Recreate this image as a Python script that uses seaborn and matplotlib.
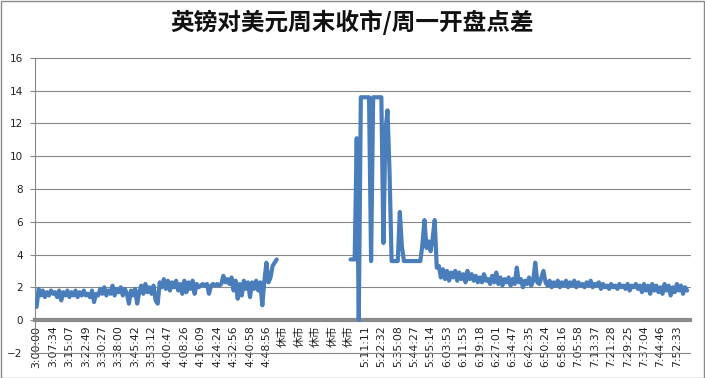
import numpy as np
import pandas as pd
import seaborn as sns
import matplotlib.pyplot as plt
from matplotlib.patches import Rectangle

TITLE = '英镑对美元周末收市/周一开盘点差'

# category labels shown on the x axis (one every POINTS_PER_LABEL samples)
tick_labels = [
    '3:00:00', '3:07:34', '3:15:07', '3:22:49', '3:30:27', '3:38:00', '3:45:42', '3:53:12',
    '4:00:47', '4:08:26', '4:16:09', '4:24:24', '4:32:56', '4:40:58', '4:48:56',
    '休市', '休市', '休市', '休市', '休市',
    '5:11:11', '5:22:32', '5:35:08', '5:44:27', '5:55:14', '6:03:53', '6:11:53', '6:19:18',
    '6:27:01', '6:34:47', '6:42:35', '6:50:24', '6:58:16', '7:05:58', '7:13:37', '7:21:28',
    '7:29:25', '7:37:04', '7:44:46', '7:52:33',
]
POINTS_PER_LABEL = 8

# spread before the weekend close
friday_spread = [
    0.8, 1.9, 1.5, 1.8, 1.4, 1.7, 1.5, 1.8, 1.6, 1.7,
    1.4, 1.8, 1.2, 1.7, 1.5, 1.8, 1.4, 1.7, 1.5, 1.8,
    1.4, 1.7, 1.5, 1.8, 1.5, 1.6, 1.4, 1.8, 1.1, 1.6,
    1.5, 1.9, 1.6, 2.0, 1.5, 1.8, 1.6, 2.1, 1.5, 1.9,
    1.7, 2.0, 1.5, 1.9, 1.6, 1.0, 1.8, 1.5, 1.9, 1.0,
    1.7, 2.1, 1.6, 2.2, 1.7, 2.0, 1.6, 2.1, 1.2, 1.0,
    2.3, 2.0, 2.5, 1.9, 2.4, 1.8, 2.3, 2.0, 2.4, 1.8,
    2.2, 1.6, 2.4, 1.7, 2.3, 1.9, 2.4, 1.6, 2.2, 2.0,
    2.1, 2.2, 2.1, 2.2, 1.6, 2.1, 2.2, 2.1, 2.2, 2.1,
    2.2, 2.7, 2.3, 2.5, 2.2, 2.6, 1.8, 2.4, 1.3, 2.2,
    1.5, 2.4, 1.9, 2.3, 1.4, 2.3, 1.9, 2.4, 1.8, 2.3,
    0.9, 2.4, 3.5, 2.3, 2.6, 3.3, 3.5, 3.7,
]

# market closed: no quotes
closed_spread = [np.nan] * 35

# spread after the Monday open
monday_spread = [
    3.7, 3.7, 3.7, 11.1, 0.0, 13.6, 13.6, 13.6, 13.6, 13.6,
    3.6, 13.6, 13.6, 13.6, 13.6, 13.6, 4.7, 11.6, 12.8, 9.0,
    3.6, 3.6, 3.6, 3.6, 6.6, 4.5, 3.6, 3.6, 3.6, 3.6,
    3.6, 3.6, 3.6, 3.6, 3.6, 4.6, 6.1, 4.4, 4.8, 4.2,
    5.0, 6.1, 3.2,
    3.3, 2.6, 3.1, 2.5, 3.0, 2.4, 2.9, 2.6, 3.0, 2.4,
    2.9, 2.5, 2.8, 2.3, 3.0, 2.5, 2.8, 2.4, 2.7, 2.3,
    2.6, 2.3, 2.8, 2.4, 2.5, 2.2, 2.7, 2.3, 2.9, 2.2,
    2.6, 2.1, 2.5, 2.3, 2.6, 2.1, 2.5, 2.2, 3.2, 2.3,
    2.5, 2.0, 2.4, 2.2, 2.6, 2.1, 2.4, 3.5, 2.3, 2.2,
    2.6, 3.0, 2.3, 2.1, 2.4, 2.0, 2.3, 2.1, 2.4, 2.0,
    2.3, 2.1, 2.4, 2.0, 2.3, 2.1, 2.4, 2.0, 2.3, 2.1,
    2.2, 2.0, 2.3, 2.1, 2.4, 2.0, 2.2, 2.1, 2.3, 1.9,
    2.2, 2.0, 2.1, 1.9, 2.2, 2.0, 2.1, 1.9, 2.2, 2.0,
    2.1, 1.9, 2.2, 1.8, 2.1, 2.0, 2.2, 1.9, 2.1, 1.7,
    2.2, 1.8, 2.1, 1.6, 2.2, 1.8, 2.1, 1.7, 2.0, 1.6,
    2.2, 1.8, 2.1, 1.5, 2.0, 1.7, 2.2, 1.8, 2.1, 1.6, 2.0, 1.8,
]

values = friday_spread + closed_spread + monday_spread
df = pd.DataFrame({'idx': np.arange(len(values)), 'spread': values})
df['seg'] = df['spread'].isna().cumsum()
df = df.dropna(subset=['spread'])

sns.set_style('white')
plt.rcParams['font.family'] = ['DejaVu Sans', 'Noto Sans CJK SC']

fig = plt.figure(figsize=(7.05, 3.78), dpi=100)
ax = fig.add_axes([0.049, 0.0667, 0.930, 0.780])

grid_color = '#878787'

sns.lineplot(data=df, x='idx', y='spread', units='seg', estimator=None,
             color='#4a7ebb', linewidth=3.0, ax=ax, zorder=3)

ax.set_xlim(-1, 318.5)
ax.set_ylim(-2, 16)
ax.set_yticks(range(-2, 17, 2))
ax.yaxis.grid(True, color=grid_color, linewidth=0.8, zorder=1)
ax.xaxis.grid(False)
ax.set_axisbelow(True)
for gl in ax.get_ygridlines():
    gl.set_clip_on(False)

ax.set_xticks(np.arange(len(tick_labels)) * POINTS_PER_LABEL)
ax.set_xticklabels(tick_labels)
ax.tick_params(axis='x', labelrotation=90, labelsize=7.8, labelcolor='#222222',
               length=0, pad=4)
ax.tick_params(axis='y', labelsize=7.5, labelcolor='#222222', length=3.5, width=0.8,
               color=grid_color, left=True, pad=5)
ax.set_xlabel('')
ax.set_ylabel('')

ax.spines['top'].set_visible(False)
ax.spines['right'].set_visible(False)
ax.spines['left'].set_color(grid_color)
ax.spines['left'].set_linewidth(0.8)
ax.spines['bottom'].set_position(('data', 0))
ax.spines['bottom'].set_color('#8a8a8a')
ax.spines['bottom'].set_linewidth(3)
ax.spines['bottom'].set_zorder(2)

fig.text(0.5, 0.942, TITLE, ha='center', va='center', fontsize=17,
         family=['Noto Sans CJK SC'], fontweight='bold', color='#111111')

fig.patches.append(Rectangle((0.001, 0.001), 0.998, 0.997, transform=fig.transFigure,
                             fill=False, edgecolor='#8a8a8a', linewidth=1))

fig.savefig('out.png', dpi=100)
